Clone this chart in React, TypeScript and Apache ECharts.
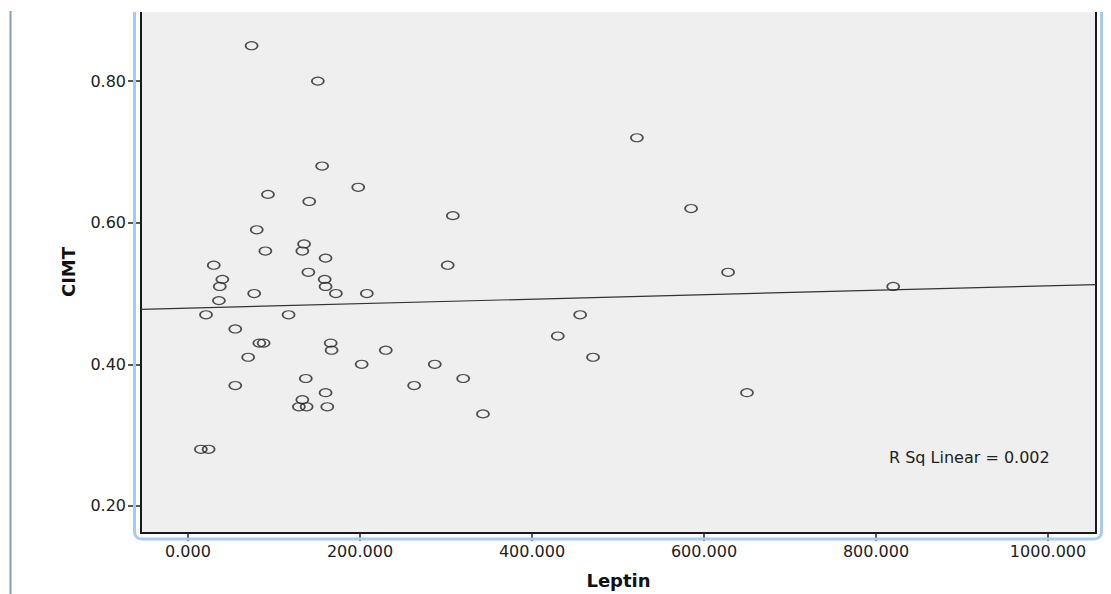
import React, { useEffect, useRef } from "react";
import * as echarts from "echarts";

const leptin = [74, 151, 156, 522, 198, 93, 141, 308, 585, 80, 135, 133, 90, 160, 30, 302, 628, 140, 40, 159, 37, 160, 820, 36, 77, 172, 208, 21, 117, 456, 55, 430, 83, 88, 166, 167, 230, 70, 471, 202, 287, 137, 320, 55, 263, 160, 650, 133, 129, 138, 162, 343, 15, 24];
const cimt = [0.85, 0.80, 0.68, 0.72, 0.65, 0.64, 0.63, 0.61, 0.62, 0.59, 0.57, 0.56, 0.56, 0.55, 0.54, 0.54, 0.53, 0.53, 0.52, 0.52, 0.51, 0.51, 0.51, 0.49, 0.50, 0.50, 0.50, 0.47, 0.47, 0.47, 0.45, 0.44, 0.43, 0.43, 0.43, 0.42, 0.42, 0.41, 0.41, 0.40, 0.40, 0.38, 0.38, 0.37, 0.37, 0.36, 0.36, 0.35, 0.34, 0.34, 0.34, 0.33, 0.28, 0.28];

const xTicks = [0, 200, 400, 600, 800, 1000];
const yTicks = [0.2, 0.4, 0.6, 0.8];
const xMin = -54.6;
const xMax = 1055.8;
const yMin = 0.1618;
const yMax = 0.899;

const fitIntercept = 0.4794;
const fitSlope = 0.0000315;
const rSqText = "R Sq Linear = 0.002";

export default function App() {
  const ref = useRef<HTMLDivElement>(null);
  useEffect(() => {
    if (!ref.current) return;
    const chart = echarts.init(ref.current, null, { renderer: "svg" });
    const points = leptin.map((x, i) => [x, cimt[i]]);
    const fit = [
      [xMin, fitIntercept + fitSlope * xMin],
      [xMax, fitIntercept + fitSlope * xMax],
    ];
    const font = "DejaVu Sans";
    chart.setOption({
      animation: false,
      backgroundColor: "#ffffff",
      grid: {
        left: 141,
        right: 15,
        top: 11,
        bottom: 61,
        show: true,
        backgroundColor: "#efefef",
        borderColor: "#1a1a1a",
        borderWidth: 2,
      },
      xAxis: {
        type: "value",
        min: xMin,
        max: xMax,
        axisLine: { show: false, onZero: false },
        splitLine: { show: false },
        axisTick: {
          show: true,
          length: 8,
          customValues: xTicks,
          lineStyle: { color: "#222", width: 1.5 },
        },
        axisLabel: {
          customValues: xTicks,
          formatter: (v: number) => v.toFixed(3),
          margin: 10,
          color: "#222",
          fontFamily: font,
          fontSize: 16,
        },
        name: "Leptin",
        nameLocation: "middle",
        nameGap: 38,
        nameTextStyle: {
          fontFamily: font,
          fontWeight: "bold",
          fontSize: 18,
          color: "#111",
        },
      },
      yAxis: {
        type: "value",
        min: yMin,
        max: yMax,
        axisLine: { show: false, onZero: false },
        splitLine: { show: false },
        axisTick: {
          show: true,
          length: 13,
          customValues: yTicks,
          lineStyle: { color: "#222", width: 1.5 },
        },
        axisLabel: {
          customValues: yTicks,
          formatter: (v: number) => v.toFixed(2),
          margin: 15,
          color: "#222",
          fontFamily: font,
          fontSize: 16,
        },
        name: "CIMT",
        nameLocation: "middle",
        nameRotate: 90,
        nameGap: 64,
        nameTextStyle: {
          fontFamily: font,
          fontWeight: "bold",
          fontSize: 18,
          color: "#111",
        },
      },
      series: [
        {
          type: "line",
          data: fit,
          showSymbol: false,
          symbol: "none",
          lineStyle: { color: "#333", width: 1.2 },
          silent: true,
          z: 2,
        },
        {
          type: "scatter",
          data: points,
          symbol: "circle",
          symbolSize: [12, 8],
          itemStyle: {
            color: "rgba(0,0,0,0)",
            borderColor: "#222",
            borderWidth: 1.4,
          },
          z: 3,
        },
      ],
      graphic: [
        {
          type: "rect",
          z: 50,
          silent: true,
          shape: { x: 134.5, y: -30, width: 967, height: 569, r: 7 },
          style: { fill: "none", stroke: "#a6cbef", lineWidth: 3 },
        },
        {
          type: "rect",
          z: 60,
          silent: true,
          shape: { x: 0, y: 0, width: 1111, height: 12 },
          style: { fill: "#ffffff" },
        },
        {
          type: "line",
          z: 60,
          silent: true,
          shape: { x1: 10.5, y1: 11, x2: 10.5, y2: 594 },
          style: { stroke: "#8b9cb1", lineWidth: 2 },
        },
        {
          type: "text",
          z: 60,
          silent: true,
          x: 889,
          y: 457,
          style: {
            text: rSqText,
            fontFamily: font,
            fontSize: 16,
            fill: "#222",
            textAlign: "left",
            textVerticalAlign: "middle",
          },
        },
      ],
    });
    return () => chart.dispose();
  }, []);
  return (
    <div
      ref={ref}
      style={{ position: "absolute", left: 0, top: 0, width: 1111, height: 594 }}
    />
  );
}
